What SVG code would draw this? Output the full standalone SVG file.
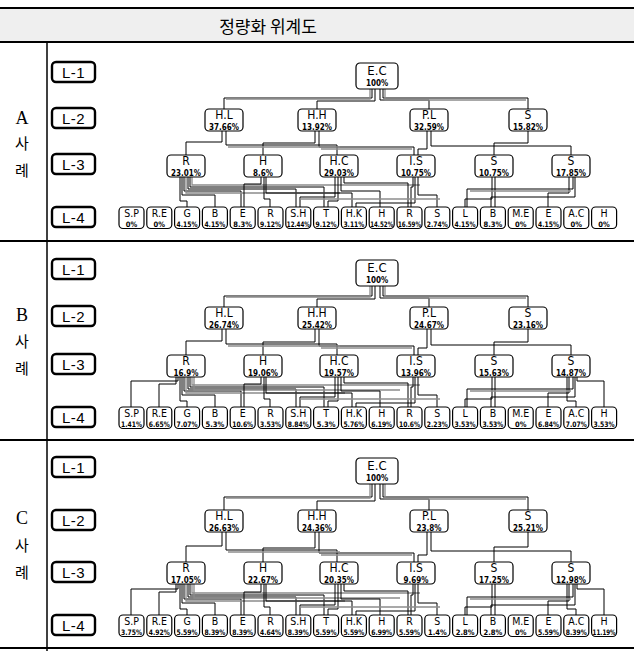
<svg xmlns="http://www.w3.org/2000/svg" width="634" height="651" viewBox="0 0 634 651">
<style>
.sep{stroke:#000;stroke-width:2}
.lb rect{fill:#fff;stroke:#000;stroke-width:2.4}
.lb text{font-family:"Liberation Sans",sans-serif;font-size:15px;text-anchor:middle;letter-spacing:0.5px}
.n rect{fill:#fff;stroke:#000;stroke-width:1.2}
.a{font-family:"DejaVu Sans Condensed","Liberation Sans Narrow","Liberation Sans",sans-serif;font-stretch:condensed;font-size:12px;text-anchor:middle}
.e{font-family:"DejaVu Sans Condensed","Liberation Sans Narrow","Liberation Sans",sans-serif;font-stretch:condensed;font-size:13px;text-anchor:middle}
.a4{font-family:"DejaVu Sans Condensed","Liberation Sans Narrow","Liberation Sans",sans-serif;font-stretch:condensed;font-size:10.5px;text-anchor:middle}
.p{font-family:"DejaVu Sans Condensed","Liberation Sans Narrow","Liberation Sans",sans-serif;font-stretch:condensed;font-size:8px;font-weight:bold;text-anchor:middle}
.p4{font-family:"DejaVu Sans Condensed","Liberation Sans Narrow","Liberation Sans",sans-serif;font-stretch:condensed;font-size:7.5px;font-weight:bold;text-anchor:middle}
.cs{font-family:"Liberation Serif",serif;font-size:18px;text-anchor:middle}
.ck{font-family:"Noto Sans CJK KR",sans-serif;font-size:15px;text-anchor:middle}
.c path{fill:none;stroke:#000;stroke-width:1}
.c path.g{stroke:#8c8c8c;stroke-width:1.3}
</style>
<rect width="634" height="651" fill="#fff"/>
<g id="title">
<rect x="0" y="8" width="634" height="34" fill="#efefef"/>
<line class="sep" x1="0" y1="8" x2="634" y2="8"/>
<line class="sep" x1="0" y1="42" x2="634" y2="42"/>
<text x="268" y="33" font-family="Noto Sans CJK KR,sans-serif" font-size="17" text-anchor="middle">정량화 위계도</text>
</g>
<g id="frame">
<line class="sep" x1="0" y1="241" x2="634" y2="241"/>
<line class="sep" x1="0" y1="440" x2="634" y2="440"/>
<line class="sep" x1="0" y1="648" x2="634" y2="648"/>
<line x1="47" y1="42" x2="47" y2="651" stroke="#000" stroke-width="1.5"/>
</g>

<!-- ================= CASE A ================= -->
<g id="caseA" transform="translate(0,63)">
<text class="cs" x="22" y="61">A</text><text class="ck" x="22" y="86">사</text><text class="ck" x="22" y="113">례</text>
<g id="A-L1" class="lb"><rect x="52" y="-1" width="43" height="20" rx="4"/><text x="73.5" y="14.5">L-1</text></g>
<g id="A-L2" class="lb"><rect x="52" y="45" width="43" height="20" rx="4"/><text x="73.5" y="60.5">L-2</text></g>
<g id="A-L3" class="lb"><rect x="52" y="91" width="43" height="20" rx="4"/><text x="73.5" y="106.5">L-3</text></g>
<g id="A-L4" class="lb"><rect x="52" y="144" width="43" height="20" rx="4"/><text x="73.5" y="159.5">L-4</text></g>
<g id="A-conn" class="c">
<path d="M372 26V35H224V46"/><path d="M375 26V38H317V46"/><path d="M380 26V37H429V46"/><path d="M383 26V35H528V46"/>
<path class="g" d="M370 26V36H226"/><path class="g" d="M385 26V37H526"/>
<path d="M222 68V79H186V92"/><path d="M226 68V82H337V92"/><path d="M315 68V80H263V92"/><path d="M319 68V84H414V92"/>
<path d="M427 68V86H418V92"/><path d="M431 68V83H571V92"/><path d="M528 68V80H494V92"/>
<path class="g" d="M228 84H340"/><path class="g" d="M321 86H412"/>
<path d="M180 114V138H187V144"/><path d="M182 114V132H215V144"/><path d="M184 114V128H241V144"/><path d="M188 114V126H296V144"/><path d="M190 114V124H324V144"/>
<path class="g" d="M186 114V130H340"/><path class="g" d="M192 114V122H420"/>
<path d="M261 114V121H244V144"/><path d="M264 114V136H270V144"/><path d="M266 114V130H352V144"/>
<path d="M335 114V134H300V144"/><path d="M338 114V138H328V144"/><path d="M341 114V128H380V144"/><path d="M344 114V120H408V144"/>
<path d="M413 114V124H411V144"/><path d="M418 114V132H437V144"/><path d="M415 114V140H356V144"/>
<path d="M492 114V136H465V144"/><path d="M495 114V144"/>
<path d="M569 114V130H548V144"/><path d="M573 114V126H467V144"/><path d="M575 114V134H491V144"/>
<path class="g" d="M300 136H440"/><path class="g" d="M470 128H571"/>
</g>
<g id="A-EC" class="n"><rect x="356" y="0" width="42" height="26" rx="4"/><text class="e" x="377" y="12">E.C</text><text class="p" x="377" y="23">100%</text></g>
<g id="A-HL" class="n"><rect x="205" y="46" width="38" height="22" rx="4"/><text class="a" x="224" y="56.3">H.L</text><text class="p" x="224" y="66.5">37.66%</text></g>
<g id="A-HH" class="n"><rect x="298" y="46" width="38" height="22" rx="4"/><text class="a" x="317" y="56.3">H.H</text><text class="p" x="317" y="66.5">13.92%</text></g>
<g id="A-PL" class="n"><rect x="410" y="46" width="38" height="22" rx="4"/><text class="a" x="429" y="56.3">P.L</text><text class="p" x="429" y="66.5">32.59%</text></g>
<g id="A-S2" class="n"><rect x="509" y="46" width="38" height="22" rx="4"/><text class="a" x="528" y="56.3">S</text><text class="p" x="528" y="66.5">15.82%</text></g>
<g id="A-R3" class="n"><rect x="167" y="92" width="38" height="22" rx="4"/><text class="a" x="186" y="102.3">R</text><text class="p" x="186" y="112.5">23.01%</text></g>
<g id="A-H3" class="n"><rect x="244" y="92" width="38" height="22" rx="4"/><text class="a" x="263" y="102.3">H</text><text class="p" x="263" y="112.5">8.6%</text></g>
<g id="A-HC3" class="n"><rect x="320" y="92" width="38" height="22" rx="4"/><text class="a" x="339" y="102.3">H.C</text><text class="p" x="339" y="112.5">29.03%</text></g>
<g id="A-IS3" class="n"><rect x="397" y="92" width="38" height="22" rx="4"/><text class="a" x="416" y="102.3">I.S</text><text class="p" x="416" y="112.5">10.75%</text></g>
<g id="A-S3a" class="n"><rect x="475" y="92" width="38" height="22" rx="4"/><text class="a" x="494" y="102.3">S</text><text class="p" x="494" y="112.5">10.75%</text></g>
<g id="A-S3b" class="n"><rect x="552" y="92" width="38" height="22" rx="4"/><text class="a" x="571" y="102.3">S</text><text class="p" x="571" y="112.5">17.85%</text></g>
<g id="A-4-SP" class="n"><rect x="119" y="144" width="25" height="21.5" rx="4"/><text class="a4" x="131.5" y="153.5">S.P</text><text class="p4" x="131.5" y="163.5">0%</text></g>
<g id="A-4-RE" class="n"><rect x="146.8" y="144" width="25" height="21.5" rx="4"/><text class="a4" x="159.3" y="153.5">R.E</text><text class="p4" x="159.3" y="163.5">0%</text></g>
<g id="A-4-G" class="n"><rect x="174.6" y="144" width="25" height="21.5" rx="4"/><text class="a4" x="187.1" y="153.5">G</text><text class="p4" x="187.1" y="163.5" textLength="21" lengthAdjust="spacingAndGlyphs">4.15%</text></g>
<g id="A-4-B" class="n"><rect x="202.4" y="144" width="25" height="21.5" rx="4"/><text class="a4" x="214.9" y="153.5">B</text><text class="p4" x="214.9" y="163.5" textLength="21" lengthAdjust="spacingAndGlyphs">4.15%</text></g>
<g id="A-4-E" class="n"><rect x="230.2" y="144" width="25" height="21.5" rx="4"/><text class="a4" x="242.7" y="153.5">E</text><text class="p4" x="242.7" y="163.5">8.3%</text></g>
<g id="A-4-R" class="n"><rect x="258" y="144" width="25" height="21.5" rx="4"/><text class="a4" x="270.5" y="153.5">R</text><text class="p4" x="270.5" y="163.5" textLength="21" lengthAdjust="spacingAndGlyphs">9.12%</text></g>
<g id="A-4-SH" class="n"><rect x="285.8" y="144" width="25" height="21.5" rx="4"/><text class="a4" x="298.3" y="153.5">S.H</text><text class="p4" x="298.3" y="163.5" textLength="23" lengthAdjust="spacingAndGlyphs">12.44%</text></g>
<g id="A-4-T" class="n"><rect x="313.6" y="144" width="25" height="21.5" rx="4"/><text class="a4" x="326.1" y="153.5">T</text><text class="p4" x="326.1" y="163.5" textLength="21" lengthAdjust="spacingAndGlyphs">9.12%</text></g>
<g id="A-4-HK" class="n"><rect x="341.4" y="144" width="25" height="21.5" rx="4"/><text class="a4" x="353.9" y="153.5">H.K</text><text class="p4" x="353.9" y="163.5" textLength="21" lengthAdjust="spacingAndGlyphs">3.11%</text></g>
<g id="A-4-H" class="n"><rect x="369.2" y="144" width="25" height="21.5" rx="4"/><text class="a4" x="381.7" y="153.5">H</text><text class="p4" x="381.7" y="163.5" textLength="23" lengthAdjust="spacingAndGlyphs">14.52%</text></g>
<g id="A-4-R2" class="n"><rect x="397" y="144" width="25" height="21.5" rx="4"/><text class="a4" x="409.5" y="153.5">R</text><text class="p4" x="409.5" y="163.5" textLength="23" lengthAdjust="spacingAndGlyphs">16.59%</text></g>
<g id="A-4-S" class="n"><rect x="424.8" y="144" width="25" height="21.5" rx="4"/><text class="a4" x="437.3" y="153.5">S</text><text class="p4" x="437.3" y="163.5" textLength="21" lengthAdjust="spacingAndGlyphs">2.74%</text></g>
<g id="A-4-L" class="n"><rect x="452.6" y="144" width="25" height="21.5" rx="4"/><text class="a4" x="465.1" y="153.5">L</text><text class="p4" x="465.1" y="163.5" textLength="21" lengthAdjust="spacingAndGlyphs">4.15%</text></g>
<g id="A-4-B2" class="n"><rect x="480.4" y="144" width="25" height="21.5" rx="4"/><text class="a4" x="492.9" y="153.5">B</text><text class="p4" x="492.9" y="163.5">8.3%</text></g>
<g id="A-4-ME" class="n"><rect x="508.2" y="144" width="25" height="21.5" rx="4"/><text class="a4" x="520.7" y="153.5">M.E</text><text class="p4" x="520.7" y="163.5">0%</text></g>
<g id="A-4-E2" class="n"><rect x="536" y="144" width="25" height="21.5" rx="4"/><text class="a4" x="548.5" y="153.5">E</text><text class="p4" x="548.5" y="163.5" textLength="21" lengthAdjust="spacingAndGlyphs">4.15%</text></g>
<g id="A-4-AC" class="n"><rect x="563.8" y="144" width="25" height="21.5" rx="4"/><text class="a4" x="576.3" y="153.5">A.C</text><text class="p4" x="576.3" y="163.5">0%</text></g>
<g id="A-4-H2" class="n"><rect x="591.6" y="144" width="25" height="21.5" rx="4"/><text class="a4" x="604.1" y="153.5">H</text><text class="p4" x="604.1" y="163.5">0%</text></g>
</g>

<!-- ================= CASE B ================= -->
<g id="caseB" transform="translate(0,260)">
<text class="cs" x="22" y="61">B</text><text class="ck" x="22" y="87">사</text><text class="ck" x="22" y="114">례</text>
<g id="B-L1" class="lb"><rect x="52" y="-1" width="43" height="20" rx="4"/><text x="73.5" y="14.5">L-1</text></g>
<g id="B-L2" class="lb"><rect x="52" y="46" width="43" height="20" rx="4"/><text x="73.5" y="61.5">L-2</text></g>
<g id="B-L3" class="lb"><rect x="52" y="94" width="43" height="20" rx="4"/><text x="73.5" y="109.5">L-3</text></g>
<g id="B-L4" class="lb"><rect x="52" y="147" width="43" height="20" rx="4"/><text x="73.5" y="162.5">L-4</text></g>
<g id="B-conn" class="c">
<path d="M372 26V36H224V47"/><path d="M375 26V39H317V47"/><path d="M380 26V38H429V47"/><path d="M383 26V36H528V47"/>
<path class="g" d="M370 26V37H226"/><path class="g" d="M385 26V38H526"/>
<path d="M222 69V81H186V95"/><path d="M226 69V84H337V95"/><path d="M315 69V82H263V95"/><path d="M319 69V86H414V95"/>
<path d="M427 69V88H418V95"/><path d="M431 69V85H571V95"/><path d="M528 69V82H494V95"/>
<path class="g" d="M228 86H340"/><path class="g" d="M321 88H412"/>
<g transform="translate(0,3)">
<path d="M178 114V118H131V144"/><path d="M176 114V121H159V144"/>
<path d="M180 114V138H187V144"/><path d="M182 114V132H215V144"/><path d="M184 114V128H241V144"/><path d="M188 114V126H296V144"/><path d="M190 114V124H324V144"/>
<path class="g" d="M186 114V130H345"/><path class="g" d="M192 114V122H420"/><path class="g" d="M194 114V127H400"/>
<path d="M261 114V121H244V144"/><path d="M264 114V136H270V144"/><path d="M266 114V130H352V144"/>
<path d="M335 114V134H300V144"/><path d="M338 114V138H328V144"/><path d="M341 114V128H380V144"/><path d="M344 114V120H408V144"/>
<path d="M413 114V124H411V144"/><path d="M418 114V132H437V144"/><path d="M415 114V140H356V144"/>
<path d="M492 114V136H465V144"/><path d="M495 114V144"/>
<path d="M569 114V130H548V144"/><path d="M573 114V126H467V144"/><path d="M575 114V134H491V144"/>
<path d="M567 114V138H576V144"/><path d="M577 114V118H604V144"/>
<path class="g" d="M300 136H440"/><path class="g" d="M470 128H571"/>
</g>
</g>
<g id="B-EC" class="n"><rect x="356" y="0" width="42" height="26" rx="4"/><text class="e" x="377" y="12">E.C</text><text class="p" x="377" y="23">100%</text></g>
<g id="B-HL" class="n"><rect x="205" y="47" width="38" height="22" rx="4"/><text class="a" x="224" y="57.3">H.L</text><text class="p" x="224" y="67.5">26.74%</text></g>
<g id="B-HH" class="n"><rect x="298" y="47" width="38" height="22" rx="4"/><text class="a" x="317" y="57.3">H.H</text><text class="p" x="317" y="67.5">25.42%</text></g>
<g id="B-PL" class="n"><rect x="410" y="47" width="38" height="22" rx="4"/><text class="a" x="429" y="57.3">P.L</text><text class="p" x="429" y="67.5">24.67%</text></g>
<g id="B-S2" class="n"><rect x="509" y="47" width="38" height="22" rx="4"/><text class="a" x="528" y="57.3">S</text><text class="p" x="528" y="67.5">23.16%</text></g>
<g id="B-R3" class="n"><rect x="167" y="95" width="38" height="22" rx="4"/><text class="a" x="186" y="105.3">R</text><text class="p" x="186" y="115.5">16.9%</text></g>
<g id="B-H3" class="n"><rect x="244" y="95" width="38" height="22" rx="4"/><text class="a" x="263" y="105.3">H</text><text class="p" x="263" y="115.5">19.06%</text></g>
<g id="B-HC3" class="n"><rect x="320" y="95" width="38" height="22" rx="4"/><text class="a" x="339" y="105.3">H.C</text><text class="p" x="339" y="115.5">19.57%</text></g>
<g id="B-IS3" class="n"><rect x="397" y="95" width="38" height="22" rx="4"/><text class="a" x="416" y="105.3">I.S</text><text class="p" x="416" y="115.5">13.96%</text></g>
<g id="B-S3a" class="n"><rect x="475" y="95" width="38" height="22" rx="4"/><text class="a" x="494" y="105.3">S</text><text class="p" x="494" y="115.5">15.63%</text></g>
<g id="B-S3b" class="n"><rect x="552" y="95" width="38" height="22" rx="4"/><text class="a" x="571" y="105.3">S</text><text class="p" x="571" y="115.5">14.87%</text></g>
<g id="B-4-SP" class="n"><rect x="119" y="147" width="25" height="21.5" rx="4"/><text class="a4" x="131.5" y="156.5">S.P</text><text class="p4" x="131.5" y="166.5" textLength="21" lengthAdjust="spacingAndGlyphs">1.41%</text></g>
<g id="B-4-RE" class="n"><rect x="146.8" y="147" width="25" height="21.5" rx="4"/><text class="a4" x="159.3" y="156.5">R.E</text><text class="p4" x="159.3" y="166.5" textLength="21" lengthAdjust="spacingAndGlyphs">6.65%</text></g>
<g id="B-4-G" class="n"><rect x="174.6" y="147" width="25" height="21.5" rx="4"/><text class="a4" x="187.1" y="156.5">G</text><text class="p4" x="187.1" y="166.5" textLength="21" lengthAdjust="spacingAndGlyphs">7.07%</text></g>
<g id="B-4-B" class="n"><rect x="202.4" y="147" width="25" height="21.5" rx="4"/><text class="a4" x="214.9" y="156.5">B</text><text class="p4" x="214.9" y="166.5">5.3%</text></g>
<g id="B-4-E" class="n"><rect x="230.2" y="147" width="25" height="21.5" rx="4"/><text class="a4" x="242.7" y="156.5">E</text><text class="p4" x="242.7" y="166.5" textLength="21" lengthAdjust="spacingAndGlyphs">10.6%</text></g>
<g id="B-4-R" class="n"><rect x="258" y="147" width="25" height="21.5" rx="4"/><text class="a4" x="270.5" y="156.5">R</text><text class="p4" x="270.5" y="166.5" textLength="21" lengthAdjust="spacingAndGlyphs">3.53%</text></g>
<g id="B-4-SH" class="n"><rect x="285.8" y="147" width="25" height="21.5" rx="4"/><text class="a4" x="298.3" y="156.5">S.H</text><text class="p4" x="298.3" y="166.5" textLength="21" lengthAdjust="spacingAndGlyphs">8.84%</text></g>
<g id="B-4-T" class="n"><rect x="313.6" y="147" width="25" height="21.5" rx="4"/><text class="a4" x="326.1" y="156.5">T</text><text class="p4" x="326.1" y="166.5">5.3%</text></g>
<g id="B-4-HK" class="n"><rect x="341.4" y="147" width="25" height="21.5" rx="4"/><text class="a4" x="353.9" y="156.5">H.K</text><text class="p4" x="353.9" y="166.5" textLength="21" lengthAdjust="spacingAndGlyphs">5.76%</text></g>
<g id="B-4-H" class="n"><rect x="369.2" y="147" width="25" height="21.5" rx="4"/><text class="a4" x="381.7" y="156.5">H</text><text class="p4" x="381.7" y="166.5" textLength="21" lengthAdjust="spacingAndGlyphs">6.19%</text></g>
<g id="B-4-R2" class="n"><rect x="397" y="147" width="25" height="21.5" rx="4"/><text class="a4" x="409.5" y="156.5">R</text><text class="p4" x="409.5" y="166.5" textLength="21" lengthAdjust="spacingAndGlyphs">10.6%</text></g>
<g id="B-4-S" class="n"><rect x="424.8" y="147" width="25" height="21.5" rx="4"/><text class="a4" x="437.3" y="156.5">S</text><text class="p4" x="437.3" y="166.5" textLength="21" lengthAdjust="spacingAndGlyphs">2.23%</text></g>
<g id="B-4-L" class="n"><rect x="452.6" y="147" width="25" height="21.5" rx="4"/><text class="a4" x="465.1" y="156.5">L</text><text class="p4" x="465.1" y="166.5" textLength="21" lengthAdjust="spacingAndGlyphs">3.53%</text></g>
<g id="B-4-B2" class="n"><rect x="480.4" y="147" width="25" height="21.5" rx="4"/><text class="a4" x="492.9" y="156.5">B</text><text class="p4" x="492.9" y="166.5" textLength="21" lengthAdjust="spacingAndGlyphs">3.53%</text></g>
<g id="B-4-ME" class="n"><rect x="508.2" y="147" width="25" height="21.5" rx="4"/><text class="a4" x="520.7" y="156.5">M.E</text><text class="p4" x="520.7" y="166.5">0%</text></g>
<g id="B-4-E2" class="n"><rect x="536" y="147" width="25" height="21.5" rx="4"/><text class="a4" x="548.5" y="156.5">E</text><text class="p4" x="548.5" y="166.5" textLength="21" lengthAdjust="spacingAndGlyphs">6.84%</text></g>
<g id="B-4-AC" class="n"><rect x="563.8" y="147" width="25" height="21.5" rx="4"/><text class="a4" x="576.3" y="156.5">A.C</text><text class="p4" x="576.3" y="166.5" textLength="21" lengthAdjust="spacingAndGlyphs">7.07%</text></g>
<g id="B-4-H2" class="n"><rect x="591.6" y="147" width="25" height="21.5" rx="4"/><text class="a4" x="604.1" y="156.5">H</text><text class="p4" x="604.1" y="166.5" textLength="21" lengthAdjust="spacingAndGlyphs">3.53%</text></g>
</g>

<!-- ================= CASE C ================= -->
<g id="caseC" transform="translate(0,458)">
<text class="cs" x="22" y="66">C</text><text class="ck" x="22" y="93">사</text><text class="ck" x="22" y="120">례</text>
<g id="C-L1" class="lb"><rect x="52" y="-1" width="43" height="20" rx="4"/><text x="73.5" y="14.5">L-1</text></g>
<g id="C-L2" class="lb"><rect x="52" y="52" width="43" height="20" rx="4"/><text x="73.5" y="67.5">L-2</text></g>
<g id="C-L3" class="lb"><rect x="52" y="104" width="43" height="20" rx="4"/><text x="73.5" y="119.5">L-3</text></g>
<g id="C-L4" class="lb"><rect x="52" y="157" width="43" height="20" rx="4"/><text x="73.5" y="172.5">L-4</text></g>
<g id="C-conn" class="c">
<path d="M372 26V39H224V52"/><path d="M375 26V43H317V52"/><path d="M380 26V41H429V52"/><path d="M383 26V39H528V52"/>
<path class="g" d="M370 26V40H226"/><path class="g" d="M385 26V41H526"/>
<path d="M222 74V88H186V104"/><path d="M226 74V92H337V104"/><path d="M315 74V90H263V104"/><path d="M319 74V95H414V104"/>
<path d="M427 74V97H418V104"/><path d="M431 74V93H571V104"/><path d="M528 74V89H494V104"/>
<path class="g" d="M228 94H340"/><path class="g" d="M321 97H412"/>
<g transform="translate(0,13)">
<path d="M178 113V118H131V144"/><path d="M176 113V121H159V144"/>
<path d="M180 113V138H187V144"/><path d="M182 113V132H215V144"/><path d="M184 113V128H241V144"/><path d="M188 113V126H296V144"/><path d="M190 113V124H324V144"/>
<path class="g" d="M186 113V130H345"/><path class="g" d="M192 113V122H420"/><path class="g" d="M194 113V127H400"/>
<path d="M261 113V121H244V144"/><path d="M264 113V136H270V144"/><path d="M266 113V130H352V144"/>
<path d="M335 113V134H300V144"/><path d="M338 113V138H328V144"/><path d="M341 113V128H380V144"/><path d="M344 113V120H408V144"/>
<path d="M413 113V124H411V144"/><path d="M418 113V132H437V144"/><path d="M415 113V140H356V144"/>
<path d="M492 113V136H465V144"/><path d="M495 113V144"/>
<path d="M569 113V130H548V144"/><path d="M573 113V126H467V144"/><path d="M575 113V134H491V144"/>
<path d="M567 113V138H576V144"/><path d="M577 113V118H604V144"/>
<path class="g" d="M300 136H440"/><path class="g" d="M470 128H571"/>
</g>
</g>
<g id="C-EC" class="n"><rect x="356" y="0" width="42" height="26" rx="4"/><text class="e" x="377" y="12">E.C</text><text class="p" x="377" y="23">100%</text></g>
<g id="C-HL" class="n"><rect x="205" y="52" width="38" height="22" rx="4"/><text class="a" x="224" y="62.3">H.L</text><text class="p" x="224" y="72.5">26.63%</text></g>
<g id="C-HH" class="n"><rect x="298" y="52" width="38" height="22" rx="4"/><text class="a" x="317" y="62.3">H.H</text><text class="p" x="317" y="72.5">24.36%</text></g>
<g id="C-PL" class="n"><rect x="410" y="52" width="38" height="22" rx="4"/><text class="a" x="429" y="62.3">P.L</text><text class="p" x="429" y="72.5">23.8%</text></g>
<g id="C-S2" class="n"><rect x="509" y="52" width="38" height="22" rx="4"/><text class="a" x="528" y="62.3">S</text><text class="p" x="528" y="72.5">25.21%</text></g>
<g id="C-R3" class="n"><rect x="167" y="104" width="38" height="22" rx="4"/><text class="a" x="186" y="114.3">R</text><text class="p" x="186" y="124.5">17.05%</text></g>
<g id="C-H3" class="n"><rect x="244" y="104" width="38" height="22" rx="4"/><text class="a" x="263" y="114.3">H</text><text class="p" x="263" y="124.5">22.67%</text></g>
<g id="C-HC3" class="n"><rect x="320" y="104" width="38" height="22" rx="4"/><text class="a" x="339" y="114.3">H.C</text><text class="p" x="339" y="124.5">20.35%</text></g>
<g id="C-IS3" class="n"><rect x="397" y="104" width="38" height="22" rx="4"/><text class="a" x="416" y="114.3">I.S</text><text class="p" x="416" y="124.5">9.69%</text></g>
<g id="C-S3a" class="n"><rect x="475" y="104" width="38" height="22" rx="4"/><text class="a" x="494" y="114.3">S</text><text class="p" x="494" y="124.5">17.25%</text></g>
<g id="C-S3b" class="n"><rect x="552" y="104" width="38" height="22" rx="4"/><text class="a" x="571" y="114.3">S</text><text class="p" x="571" y="124.5">12.98%</text></g>
<g id="C-4-SP" class="n"><rect x="119" y="157" width="25" height="21.5" rx="4"/><text class="a4" x="131.5" y="166.5">S.P</text><text class="p4" x="131.5" y="176.5" textLength="21" lengthAdjust="spacingAndGlyphs">3.75%</text></g>
<g id="C-4-RE" class="n"><rect x="146.8" y="157" width="25" height="21.5" rx="4"/><text class="a4" x="159.3" y="166.5">R.E</text><text class="p4" x="159.3" y="176.5" textLength="21" lengthAdjust="spacingAndGlyphs">4.92%</text></g>
<g id="C-4-G" class="n"><rect x="174.6" y="157" width="25" height="21.5" rx="4"/><text class="a4" x="187.1" y="166.5">G</text><text class="p4" x="187.1" y="176.5" textLength="21" lengthAdjust="spacingAndGlyphs">5.59%</text></g>
<g id="C-4-B" class="n"><rect x="202.4" y="157" width="25" height="21.5" rx="4"/><text class="a4" x="214.9" y="166.5">B</text><text class="p4" x="214.9" y="176.5" textLength="21" lengthAdjust="spacingAndGlyphs">8.39%</text></g>
<g id="C-4-E" class="n"><rect x="230.2" y="157" width="25" height="21.5" rx="4"/><text class="a4" x="242.7" y="166.5">E</text><text class="p4" x="242.7" y="176.5" textLength="21" lengthAdjust="spacingAndGlyphs">8.39%</text></g>
<g id="C-4-R" class="n"><rect x="258" y="157" width="25" height="21.5" rx="4"/><text class="a4" x="270.5" y="166.5">R</text><text class="p4" x="270.5" y="176.5" textLength="21" lengthAdjust="spacingAndGlyphs">4.64%</text></g>
<g id="C-4-SH" class="n"><rect x="285.8" y="157" width="25" height="21.5" rx="4"/><text class="a4" x="298.3" y="166.5">S.H</text><text class="p4" x="298.3" y="176.5" textLength="21" lengthAdjust="spacingAndGlyphs">8.39%</text></g>
<g id="C-4-T" class="n"><rect x="313.6" y="157" width="25" height="21.5" rx="4"/><text class="a4" x="326.1" y="166.5">T</text><text class="p4" x="326.1" y="176.5" textLength="21" lengthAdjust="spacingAndGlyphs">5.59%</text></g>
<g id="C-4-HK" class="n"><rect x="341.4" y="157" width="25" height="21.5" rx="4"/><text class="a4" x="353.9" y="166.5">H.K</text><text class="p4" x="353.9" y="176.5" textLength="21" lengthAdjust="spacingAndGlyphs">5.59%</text></g>
<g id="C-4-H" class="n"><rect x="369.2" y="157" width="25" height="21.5" rx="4"/><text class="a4" x="381.7" y="166.5">H</text><text class="p4" x="381.7" y="176.5" textLength="21" lengthAdjust="spacingAndGlyphs">6.99%</text></g>
<g id="C-4-R2" class="n"><rect x="397" y="157" width="25" height="21.5" rx="4"/><text class="a4" x="409.5" y="166.5">R</text><text class="p4" x="409.5" y="176.5" textLength="21" lengthAdjust="spacingAndGlyphs">5.59%</text></g>
<g id="C-4-S" class="n"><rect x="424.8" y="157" width="25" height="21.5" rx="4"/><text class="a4" x="437.3" y="166.5">S</text><text class="p4" x="437.3" y="176.5">1.4%</text></g>
<g id="C-4-L" class="n"><rect x="452.6" y="157" width="25" height="21.5" rx="4"/><text class="a4" x="465.1" y="166.5">L</text><text class="p4" x="465.1" y="176.5">2.8%</text></g>
<g id="C-4-B2" class="n"><rect x="480.4" y="157" width="25" height="21.5" rx="4"/><text class="a4" x="492.9" y="166.5">B</text><text class="p4" x="492.9" y="176.5">2.8%</text></g>
<g id="C-4-ME" class="n"><rect x="508.2" y="157" width="25" height="21.5" rx="4"/><text class="a4" x="520.7" y="166.5">M.E</text><text class="p4" x="520.7" y="176.5">0%</text></g>
<g id="C-4-E2" class="n"><rect x="536" y="157" width="25" height="21.5" rx="4"/><text class="a4" x="548.5" y="166.5">E</text><text class="p4" x="548.5" y="176.5" textLength="21" lengthAdjust="spacingAndGlyphs">5.59%</text></g>
<g id="C-4-AC" class="n"><rect x="563.8" y="157" width="25" height="21.5" rx="4"/><text class="a4" x="576.3" y="166.5">A.C</text><text class="p4" x="576.3" y="176.5" textLength="21" lengthAdjust="spacingAndGlyphs">8.39%</text></g>
<g id="C-4-H2" class="n"><rect x="591.6" y="157" width="25" height="21.5" rx="4"/><text class="a4" x="604.1" y="166.5">H</text><text class="p4" x="604.1" y="176.5" textLength="23" lengthAdjust="spacingAndGlyphs">11.19%</text></g>
</g>
</svg>
